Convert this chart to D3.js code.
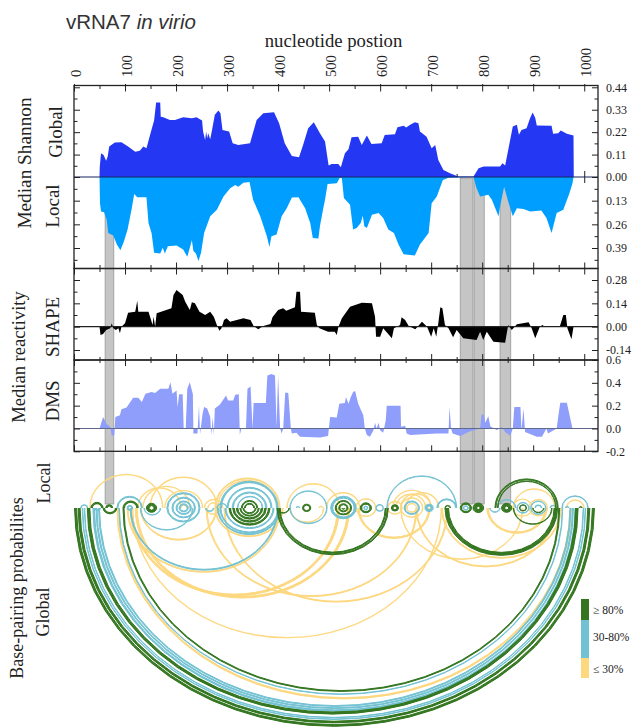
<!DOCTYPE html>
<html>
<head>
<meta charset="utf-8">
<script src="https://cdn.jsdelivr.net/npm/d3@7"></script>
<style>
  html, body { margin: 0; padding: 0; background: #fff; }
  svg { display: block; }
  text { font-family: "Liberation Serif", serif; fill: #222; }
</style>
</head>
<body>
<div id="chart"></div>
<script>
// [nucleotide, value]
var shannonGlobal = [[50,0],[50.5,.05],[53,.116],[58,.108],[63,.08],[66,.1],[69,.149],[80,.169],[93,.17],[106,.149],[120,.124],[129,.129],[136,.149],[142,.141],[150,.214],[157,.277],[161,.365],[169,.365],[170,.296],[175,.293],[188,.28],[198,.28],[214,.293],[231,.288],[240,.293],[251,.277],[253,.223],[257,.182],[259,.223],[261,.19],[263,.214],[267,.185],[270,.223],[276,.305],[283,.326],[287,.313],[291,.231],[304,.223],[311,.165],[322,.157],[345,.165],[358,.28],[371,.313],[392,.318],[402,.264],[413,.165],[427,.103],[441,.097],[449,.157],[459,.239],[470,.269],[482,.214],[492,.174],[499,.056],[505,.064],[518,.064],[523,.048],[531,.116],[538,.136],[544,.195],[557,.198],[564,.157],[574,.203],[583,.162],[603,.165],[609,.206],[629,.21],[634,.244],[646,.251],[651,.243],[659,.256],[668,.269],[675,.264],[678,.223],[691,.198],[701,.141],[708,.157],[714,.084],[724,.034],[737,.018],[753,.003],[783,.002],[793,.043],[803,.051],[835,.051],[840,.067],[845,.056],[851,.133],[860,.248],[868,.256],[872,.207],[877,.231],[887,.239],[894,.289],[899,.317],[904,.289],[907,.253],[936,.251],[939,.212],[949,.215],[954,.228],[966,.212],[979,.203],[979.5,0]];
var shannonLocal = [[50,0],[51,.144],[53,.189],[59,.193],[64,.235],[67,.307],[77,.322],[84,.371],[91,.402],[98,.353],[105,.289],[113,.176],[118,.093],[124,.111],[142,.111],[146,.253],[152,.307],[157,.416],[169,.42],[174,.389],[178,.42],[184,.38],[201,.376],[214,.398],[222,.438],[227,.389],[231,.347],[234,.407],[239,.42],[244,.462],[249,.416],[255,.307],[267,.216],[280,.18],[293,.107],[306,.062],[316,.044],[322,.053],[332,.031],[344,.027],[351,.125],[365,.216],[378,.325],[383,.385],[387,.325],[397,.316],[407,.216],[417,.171],[427,.113],[440,.111],[453,.171],[463,.253],[468,.335],[479,.338],[482,.271],[488,.18],[492,.125],[497,.038],[515,.035],[521,.004],[525,.007],[529,.116],[541,.153],[547,.289],[554,.28],[562,.253],[566,.213],[569,.271],[574,.28],[584,.207],[597,.198],[606,.225],[616,.289],[627,.307],[636,.371],[646,.425],[668,.431],[678,.371],[695,.307],[701,.144],[711,.107],[723,.016],[734,.004],[783,0],[789,.062],[796,.107],[812,.098],[819,.125],[832,.216],[835,.162],[843,.053],[851,.135],[860,.216],[868,.171],[881,.176],[894,.189],[916,.184],[926,.225],[936,.307],[946,.198],[959,.18],[971,.089],[977,.035],[979,0]];
var shapeValues = [[50,0],[52,-.05],[57,-.044],[63,-.02],[71,-.01],[74,.02],[77,-.01],[82,-.02],[87,-.01],[90,-.04],[93,0],[100,.02],[106,.084],[120,.09],[124,.156],[126,.09],[146,.09],[150,.05],[154,.01],[156,.06],[159,0],[162,.08],[191,.11],[195,.19],[201,.22],[213,.19],[218,.15],[227,.1],[231,.146],[237,.14],[246,.09],[257,.07],[267,.09],[274,.06],[280,.01],[285,-.024],[289,-.01],[294,.04],[299,.05],[306,.03],[332,.05],[346,.04],[352,.004],[361,-.016],[371,.004],[385,.016],[389,.056],[400,.1],[410,.11],[416,.096],[433,.116],[436,.21],[443,.21],[445,.09],[472,.084],[476,.01],[481,-.01],[498,-.03],[511,-.03],[515,-.05],[518,-.004],[525,.05],[541,.12],[564,.144],[584,.14],[590,.06],[592,-.06],[600,-.06],[606,-.01],[623,-.07],[627,-.01],[639,.01],[642,.056],[649,.04],[656,.004],[669,-.016],[682,.03],[692,0],[700,-.06],[705,-.01],[710,-.06],[714,.02],[718,.116],[722,.11],[727,.01],[734,-.01],[743,-.064],[750,-.02],[763,-.07],[789,-.08],[796,-.03],[802,-.08],[809,-.03],[822,-.09],[845,-.096],[851,.01],[858,-.02],[868,.014],[891,.026],[897,-.01],[904,-.07],[913,0],[918,.01],[923,0],[952,0],[959,.07],[964,.07],[967,-.01],[975,-.076],[979,0]];
var dmsValues = [[50,0],[57,.1],[64,.04],[71,.015],[74,-.064],[79,-.058],[81,.1],[90,.116],[93,.168],[103,.183],[116,.27],[126,.27],[133,.232],[140,.305],[152,.319],[159,.31],[169,.348],[185,.348],[189,.406],[193,.305],[201,.333],[203,.188],[206,.3],[213,.3],[215,0],[219,0],[222,.348],[227,.406],[233,.3],[234,-.044],[242,-.044],[245,.2],[247,-.05],[252,.13],[255,.188],[261,.174],[267,.1],[269,-.058],[272,.1],[274,-.06],[276,.174],[286,.21],[298,.29],[302,.246],[312,.246],[316,.296],[323,.3],[325,-.058],[328,0],[337,0],[340,.348],[346,.368],[350,0],[352,.223],[376,.223],[379,.464],[387,.478],[394,.464],[397,.015],[400,.464],[404,0],[407,-.044],[410,0],[414,.316],[420,.31],[425,0],[427,-.044],[436,-.038],[443,-.072],[482,-.078],[498,-.067],[502,.1],[515,.096],[520,.217],[531,.223],[533,.275],[538,.217],[542,.27],[547,.319],[551,.328],[557,.217],[567,.116],[570,0],[574,-.058],[580,-.072],[587,-.015],[590,.05],[593,0],[597,.05],[600,-.015],[606,-.038],[611,.072],[613,.2],[640,.2],[641,.015],[649,.023],[652,-.044],[659,-.058],[711,-.044],[734,-.044],[736,.188],[739,0],[742,-.044],[757,-.067],[773,-.03],[783,-.015],[796,0],[799,.125],[803,.12],[806,.05],[812,.107],[816,.02],[829,-.015],[838,.015],[845,-.03],[855,-.064],[860,0],[863,.188],[875,.188],[877,-.015],[881,.174],[884,-.03],[907,-.072],[917,-.072],[926,0],[929,-.044],[946,0],[949,.1],[953,.226],[966,.226],[972,.1],[977,0]];

// grey stretches [from nt, to nt]
var bands = [[61,78],[757,782],[784,804],[835,856]];

var ntMajor = [0,100,200,300,400,500,600,700,800,900,1000];
var ntMinor = [50,150,250,350,450,550,650,750,850,950];
var globalTicks = [0,.11,.22,.33,.44];
var globalMinor = [.055,.165,.275,.385];
var localTicks = [.13,.26,.39];
var localMinor = [.065,.195,.325,.455];
var shapeTicks = [-.14,0,.14,.28];
var shapeMinor = [-.07,.07,.21];
var dmsTicks = [-.2,0,.2,.4,.6];
var dmsMinor = [-.1,.1,.3,.5];

// helices [first nt, last nt, stacked pairs]
var belowHigh = [[1,1020,5],[8,1011,5],[26,988,6],[96,952,3],[398,616,3],[402,612,3],[727,948,8],[57,84,4],[861,937,2],
  [304,384,4],[311,377,4],[318,370,4],[325,363,3],[331,357,3],[142,162,6],[448,464,3],[512,544,3],[519,537,3],[525,531,2],
  [561,583,4],[622,636,4],[757,779,4],[782,803,8],[838,858,7],[873,887,2],[899,921,2],[398,422,2]];
var belowMid = [[16,1003,2],[20,999,2],[37,985,4],[43,979,3],[48,974,3],[88,958,2],[110,400,3],[130,233,2],[296,392,3],[286,402,3],[281,405,3],
  [40,52,3],[104,115,3],[137,170,2],[182,247,3],[192,238,3],[200,230,3],[206,224,3],[258,274,2],[423,496,2],[503,553,5],
  [568,576,2],[647,677,3],[688,704,5],[763,773,2],[815,835,2],[868,892,2],[895,925,2],[592,606,1]];
var belowLow = [[84,975,4],[104,404,3],[110,520,5],[120,540,5],[259,672,3],[294,733,3],[115,720,1],[556,698,4],[670,945,3],[720,955,3],
  [809,927,2],[812,924,1],[640,880,2],[130,280,3],[276,410,3],[258,288,2],[423,490,2],[652,672,2],[640,684,2],[552,592,2],[615,643,1],[860,898,1],[892,928,1]];

var aboveHigh = [[33,57,4],[62,76,4],[96,126,4],[142,162,6],[328,360,3],[334,354,3],[448,464,3],[512,544,3],[519,537,3],[561,583,4],[622,636,4],
  [727,738,2],[757,779,4],[782,803,8],[825,949,3],[830,945,2],[838,858,7],[873,887,2],[990,996,2]];
var aboveMid = [[13,27,2],[84,134,3],[104,115,3],[182,247,3],[192,238,3],[200,230,3],[206,224,3],[280,300,2],[286,400,4],[300,388,3],
  [310,378,3],[320,370,2],[423,496,2],[436,442,1],[503,553,5],[568,576,2],[592,606,1],[613,750,2],[647,677,3],[688,704,5],
  [711,750,3],[763,773,2],[830,866,2],[868,892,2],[895,925,2],[904,916,1],[933,945,2],[956,1008,2],[963,970,2]];
var aboveLow = [[31,174,1],[135,227,1],[125,210,1],[149,280,1],[178,252,1],[208,222,2],[255,292,2],[262,285,2],[276,404,3],[281,399,2],[417,521,2],
  [480,488,2],[495,560,1],[552,592,2],[615,643,1],[625,700,1],[630,690,2],[640,700,1],[650,715,1],[652,672,2],[640,684,2],[861,943,2],
  [860,898,1],[892,928,1],[965,1000,2]];

// legend
var legendLabels = ['\u2265 80%','30-80%','\u2264 30%'];

var colorHigh = '#33761f', colorMid = '#72c2d3', colorLow = '#fdd87f';

var svgWidth = 633, svgHeight = 727;
var plotLeft = 74, plotRight = 598;
var panel1Top = 85.5, panel1Bottom = 268.5, panel2Bottom = 360, panel3Bottom = 451.3;
var arcBase = 508;

var svg = d3.select('#chart').append('svg')
  .attr('width', svgWidth)
  .attr('height', svgHeight);

// scales
var x = d3.scaleLinear().domain([0,1027]).range([plotLeft,plotRight]);
var yGlobal = d3.scaleLinear().domain([0,.44]).range([177,87.3]);
var yLocal = d3.scaleLinear().domain([0,.39]).range([177,248]);
var yShape = d3.scaleLinear().domain([-.14,.28]).range([350,280]);
var yDms = d3.scaleLinear().domain([-.2,.6]).range([451.3,360]);

// grey bands go behind everything
svg.append('g').selectAll('rect')
  .data(bands)
  .enter()
  .append('rect')
    .attr('x', d => x(d[0]))
    .attr('width', d => x(d[1]) - x(d[0]))
    .attr('y', 178)
    .attr('height', 326)
    .attr('fill', '#c4c5c4')
    .attr('stroke', '#969896')
    .attr('stroke-width', 0.8);

function drawArea(data, y, color) {
  var area = d3.area()
    .x(d => x(d[0]))
    .y0(y(0))
    .y1(d => y(d[1]));
  svg.append('path')
    .datum(data)
    .attr('d', area)
    .attr('fill', color);
}
drawArea(shannonGlobal, yGlobal, '#2438f3');
drawArea(shannonLocal, yLocal, '#009fff');
drawArea(shapeValues, yShape, '#000');
drawArea(dmsValues, yDms, '#8f9dfb');

// zero lines
function zeroLine(y, color) {
  svg.append('line')
    .attr('x1', plotLeft).attr('x2', plotRight)
    .attr('y1', y).attr('y2', y)
    .attr('stroke', color).attr('stroke-width', 1.2);
}
zeroLine(yGlobal(0), '#16245f');
zeroLine(yShape(0), '#222');
zeroLine(yDms(0), '#5f6a8c');

// panel frames
[[panel1Top,panel1Bottom],[panel1Bottom,panel2Bottom],[panel2Bottom,panel3Bottom]].forEach(function(p){
  svg.append('rect')
    .attr('x', plotLeft).attr('y', p[0])
    .attr('width', plotRight - plotLeft).attr('height', p[1] - p[0])
    .attr('fill', 'none').attr('stroke', '#222').attr('stroke-width', 1.3);
});

// tick helpers
function xTicks(axisFn, y, values, size) {
  var g = svg.append('g')
    .attr('transform', `translate(0,${y})`)
    .call(axisFn(x).tickValues(values).tickSize(size).tickFormat(''));
  g.select('.domain').remove();
  g.selectAll('line').attr('stroke', '#222').attr('stroke-width', 1);
}
function yTicks(axisFn, at, scale, values, size) {
  var g = svg.append('g')
    .attr('transform', `translate(${at},0)`)
    .call(axisFn(scale).tickValues(values).tickSize(-size).tickFormat(''));
  g.select('.domain').remove();
  g.selectAll('line').attr('stroke', '#222').attr('stroke-width', 1);
}

// x ticks along the frames
xTicks(d3.axisBottom, panel1Top, ntMajor, 6);
xTicks(d3.axisBottom, panel1Top, ntMinor, 3.5);
xTicks(d3.axisTop, panel1Top, ntMajor, 1.5);
xTicks(d3.axisBottom, panel1Bottom, ntMajor, 6);
xTicks(d3.axisTop, panel1Bottom, ntMajor, 6);
xTicks(d3.axisBottom, panel1Bottom, ntMinor, 3.5);
xTicks(d3.axisTop, panel1Bottom, ntMinor, 3.5);
xTicks(d3.axisBottom, panel2Bottom, ntMajor, 6);
xTicks(d3.axisTop, panel2Bottom, ntMajor, 6);
xTicks(d3.axisBottom, panel2Bottom, ntMinor, 3);
xTicks(d3.axisTop, panel2Bottom, ntMinor, 3);
xTicks(d3.axisTop, panel3Bottom, ntMajor, 6);
xTicks(d3.axisTop, panel3Bottom, ntMinor, 4);
xTicks(d3.axisBottom, yGlobal(0), [1000], 6);
xTicks(d3.axisTop, yGlobal(0), [1000], 6);
xTicks(d3.axisTop, yGlobal(0), [750], 3);

// y ticks, all pointing inward
var fmt2 = d => d.toFixed(2);
var fmt1 = d => d.toFixed(1);
yTicks(d3.axisRight, plotLeft, yGlobal, globalTicks, -6);
yTicks(d3.axisRight, plotLeft, yGlobal, globalMinor, -3.5);
yTicks(d3.axisRight, plotLeft, yLocal, localTicks, -6);
yTicks(d3.axisRight, plotLeft, yLocal, localMinor, -3.5);
yTicks(d3.axisRight, plotLeft, yShape, shapeTicks, -6);
yTicks(d3.axisRight, plotLeft, yShape, shapeMinor, -3.5);
yTicks(d3.axisRight, plotLeft, yDms, dmsTicks, -6);
yTicks(d3.axisRight, plotLeft, yDms, dmsMinor, -3.5);

function rightLabels(scale, values, minor, labels) {
  var g = svg.append('g')
    .attr('transform', `translate(${plotRight},0)`)
    .call(d3.axisRight(scale).tickValues(values).tickSize(-6).tickPadding(8).tickFormat(labels));
  g.select('.domain').remove();
  g.selectAll('line').attr('stroke', '#222');
  g.selectAll('text')
    .style('font-family', '"Liberation Serif", serif')
    .style('font-size', '12px')
    .attr('fill', '#222');
  var m = svg.append('g')
    .attr('transform', `translate(${plotRight},0)`)
    .call(d3.axisRight(scale).tickValues(minor).tickSize(-3.5).tickFormat(''));
  m.select('.domain').remove();
  m.selectAll('line').attr('stroke', '#222');
}
rightLabels(yGlobal, globalTicks, globalMinor, fmt2);
rightLabels(yLocal, localTicks, localMinor, fmt2);
rightLabels(yShape, shapeTicks, shapeMinor, fmt2);
rightLabels(yDms, dmsTicks, dmsMinor, fmt1);

// top nucleotide labels
var topAxis = svg.append('g')
  .attr('transform', 'translate(0,77)')
  .call(d3.axisTop(x).tickValues(ntMajor).tickSize(0).tickFormat(d3.format('d')));
topAxis.select('.domain').remove();
topAxis.selectAll('text')
  .attr('transform', 'rotate(-90)')
  .attr('x', 0)
  .attr('y', 6.5)
  .attr('dy', 0)
  .style('text-anchor', 'start')
  .style('font-family', '"Liberation Serif", serif')
  .style('font-size', '14.5px')
  .attr('fill', '#222');

// arcs: lower ones a bit flatter than upper ones
function arcPath(a, b, up) {
  var rx = (x(b) - x(a)) / 2;
  var ry = rx * (up ? 0.92 : 0.84);
  return `M${x(a)},${arcBase} A${rx},${ry} 0 0 ${up ? 1 : 0} ${x(b)},${arcBase}`;
}
function drawArcs(list, color, up) {
  var lines = [];
  list.forEach(function(h){
    d3.range(h[2]).forEach(function(k){
      lines.push([h[0] + k, h[1] - k, h[2]]);
    });
  });
  svg.append('g').selectAll('path')
    .data(lines)
    .enter()
    .append('path')
      .attr('d', d => arcPath(d[0], d[1], up))
      .attr('fill', 'none')
      .attr('stroke', color)
      .attr('stroke-width', d => d[2] == 1 ? 1.4 : 1);
}
drawArcs(belowLow, colorLow, false);
drawArcs(aboveLow, colorLow, true);
drawArcs(belowMid, colorMid, false);
drawArcs(aboveMid, colorMid, true);
drawArcs(belowHigh, colorHigh, false);
drawArcs(aboveHigh, colorHigh, true);

// legend bar
var legendStops = [[599,620],[620,658],[658,678]];
var legendColors = [colorHigh, colorMid, colorLow];
legendLabels.forEach(function(l,i){
  svg.append('rect')
    .attr('x', 581).attr('y', legendStops[i][0])
    .attr('width', 8).attr('height', legendStops[i][1] - legendStops[i][0])
    .attr('fill', legendColors[i]);
  svg.append('text')
    .attr('x', 593)
    .attr('y', [614,641,673][i])
    .style('font-size', '11.5px')
    .text(l);
});

// titles and labels
var title = svg.append('text')
  .attr('x', 66).attr('y', 29)
  .style('font-family', '"Liberation Sans", sans-serif')
  .style('font-size', '20.5px')
  .style('fill', '#333');
title.append('tspan').text('vRNA7 ');
title.append('tspan').style('font-style', 'italic').text('in virio');

svg.append('text')
  .attr('x', 333.5).attr('y', 47)
  .style('text-anchor', 'middle')
  .style('font-size', '18.7px')
  .text('nucleotide postion');

function sideLabel(txt, xPos, yPos, size) {
  svg.append('text')
    .attr('transform', `translate(${xPos},${yPos}) rotate(-90)`)
    .style('text-anchor', 'middle')
    .style('font-size', size + 'px')
    .text(txt);
}
sideLabel('Median Shannon', 31, 163, 19.3);
sideLabel('Global', 62, 132, 19);
sideLabel('Local', 59, 206, 19);
sideLabel('Median reactivity', 25, 357, 18.6);
sideLabel('SHAPE', 59, 327, 19);
sideLabel('DMS', 59, 401, 19);
sideLabel('Local', 50, 483, 18);
sideLabel('Global', 49, 612, 18);
sideLabel('Base-pairing probabilites', 23, 588, 18);
</script>
</body>
</html>
